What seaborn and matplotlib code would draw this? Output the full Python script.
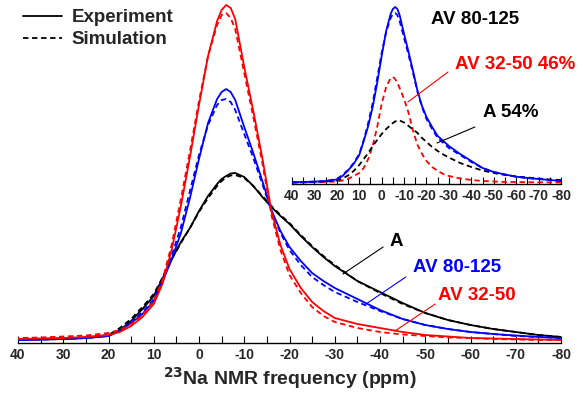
import seaborn as sns
import matplotlib.pyplot as plt
from matplotlib.lines import Line2D

# chemical shift grid (ppm), shared by all curves
ppm = [40, 35, 30, 25, 20, 17.5, 15, 12.5, 10, 8, 6, 4, 2, 0, -2, -4, -5, -6, -7, -8,
       -10, -12, -14, -16, -18, -20, -22.5, -25, -27.5, -30, -35, -40, -45, -50, -55,
       -60, -65, -70, -75, -80]

# main panel intensities (a.u.)
a_exp = [1, 1.5, 2, 3, 5, 11, 20, 32, 45, 63, 82, 99, 113, 130, 145, 157, 162, 165, 167.5, 168,
         164, 155, 144, 134, 125, 117, 105, 94, 84, 75, 60, 49, 38, 28, 21, 16, 12, 9, 6, 4]
a_sim = [1.5, 2, 2.5, 3.5, 6, 13, 22, 34, 47, 64, 82, 98, 113, 129, 143, 155, 160, 163.5, 165.5, 166,
         163, 155, 145, 135, 126, 118, 106, 95, 85, 76, 60, 48, 37, 28, 21, 16, 12, 9, 6, 4]
av80_exp = [1, 1.5, 2, 3, 5, 10, 18, 27, 40, 60, 82, 108, 143, 182, 218, 242, 249, 252, 249, 241,
            214, 188, 160, 131, 110, 94, 80, 68, 60, 53, 42, 31, 22, 16, 12, 9, 7, 5.5, 4, 3]
av80_sim = [1, 1.5, 2, 3, 5.5, 11, 19, 29, 42, 62, 86, 114, 150, 186, 216, 236, 241, 242, 239, 231,
            207, 183, 157, 130, 108, 91, 76, 64, 56, 49, 39, 30, 22, 16, 12, 9, 7, 5, 4, 3]
av32_exp = [2, 2.5, 3, 4, 6, 9, 15, 24, 37, 58, 92, 135, 184, 236, 285, 320, 331, 336, 333, 322,
            274, 230, 183, 130, 96, 72, 53, 39, 30, 23, 17, 13, 9, 6, 4.5, 3, 2.5, 2, 1.5, 1]
av32_sim = [3, 3.5, 4.5, 5.5, 8, 11, 17, 26, 40, 62, 97, 142, 190, 240, 285, 316, 326, 328, 323, 312,
            268, 224, 178, 126, 91, 66, 48, 34, 25, 19, 13, 9, 6.5, 5, 3.5, 3, 2, 1.5, 1, 1]

# inset: AV 80-125 and its two components
in_av80_exp = [0.7, 1, 1.4, 2, 3.5, 7, 12.5, 19, 28, 42, 57, 76, 100, 127, 152, 169, 174, 176, 174, 168,
               149, 131, 112, 92, 77, 66, 56, 47, 42, 37, 29, 22, 15, 11, 8.5, 6.3, 5, 4, 3, 2]
in_av80_sim = [0.7, 1, 1.4, 2, 4, 8, 13, 20, 29, 43, 60, 80, 105, 130, 151, 165, 169, 170, 168, 162,
               145, 128, 110, 91, 76, 64, 54, 45, 40, 35, 28, 21, 15, 11, 8.5, 6.3, 5, 4, 3, 2]
in_av32 = [0.5, 0.6, 0.8, 1, 1.5, 2.5, 4, 7, 10, 15, 24, 37, 56, 79, 96, 105, 106, 104, 100, 95,
           84, 70, 52, 38, 29, 22, 16, 12, 9, 7, 4.5, 3, 2, 1.5, 1, 1, 0.8, 0.7, 0.6, 0.5]
in_a = [0.5, 0.7, 1, 1.5, 2.5, 4.5, 7.5, 12, 18, 24, 30, 37, 43, 49, 54, 58, 60, 61.5, 62.5, 62.5,
        60.5, 57, 53.5, 50, 45, 41, 36, 32, 28.5, 25.5, 20, 16, 12.5, 10, 8, 6.5, 5.5, 4.5, 3.5, 3]

xticks = list(range(40, -81, -10))
minor_ticks = list(range(35, -80, -10))

sns.set_style("white")
plt.rcParams['font.family'] = ['Liberation Sans', 'DejaVu Sans']
plt.rcParams['font.weight'] = 'bold'
plt.rcParams['axes.unicode_minus'] = False

DASH = (0, (3, 2))
LW = 1.3


def style_axis(ax, ylim):
    ax.set_xlim(40, -80)
    ax.set_ylim(*ylim)
    ax.set_facecolor('none')
    for side in ['left', 'top', 'right']:
        ax.spines[side].set_visible(False)
    ax.spines['bottom'].set_linewidth(1.0)
    ax.spines['bottom'].set_color('black')
    ax.set_yticks([])
    ax.set_xticks(xticks)
    ax.set_xticklabels([str(t) for t in xticks])
    for lbl in ax.get_xticklabels():
        lbl.set_fontsize(10)
        lbl.set_fontweight('bold')
    ax.set_xticks(minor_ticks, minor=True)
    ax.tick_params(axis='x', which='both', direction='in', length=5, width=0.8,
                   color='black', pad=3.5, bottom=True)
    ax.set_ylabel('')


fig = plt.figure(figsize=(5.78, 3.94), dpi=100)
ax = fig.add_axes([18 / 578, 1 - 343 / 394, 543 / 578, 343 / 394])

for exp, sim, color in [(a_exp, a_sim, 'black'),
                        (av80_exp, av80_sim, 'blue'),
                        (av32_exp, av32_sim, 'red')]:
    sns.lineplot(x=ppm, y=sim, ax=ax, color=color, lw=LW, linestyle=DASH)
    sns.lineplot(x=ppm, y=exp, ax=ax, color=color, lw=LW)

style_axis(ax, (-2, 341))
ax.set_xlabel('$\\mathbf{^{23}}$Na NMR frequency (ppm)', fontsize=14,
              fontweight='bold', labelpad=2)

# curve labels with leader lines
ax.text(-43.5, 100, 'A', color='black', fontsize=13.5, fontweight='bold',
        ha='center', va='center')
ax.plot([-40.7, -31.8], [94, 67], color='black', lw=0.8)
ax.text(-57, 74, 'AV 80-125', color='blue', fontsize=13.5, fontweight='bold',
        ha='center', va='center')
ax.plot([-45.7, -36.9], [64, 37], color='blue', lw=0.8)
ax.text(-61.5, 45, 'AV 32-50', color='red', fontsize=13.5, fontweight='bold',
        ha='center', va='center')
ax.plot([-52.2, -43.3], [37, 10], color='red', lw=0.8)

handles = [Line2D([], [], color='black', lw=LW),
           Line2D([], [], color='black', lw=LW, linestyle=DASH)]
ax.legend(handles, ['Experiment', 'Simulation'], loc='upper left',
          bbox_to_anchor=(23 / 578, 1 - 9 / 394), bbox_transform=fig.transFigure,
          frameon=False, borderpad=0, borderaxespad=0, handlelength=2.1,
          handletextpad=0.5, labelspacing=0.27,
          prop={'size': 13.5, 'weight': 'bold'})

# inset
axi = fig.add_axes([292 / 578, 1 - 184 / 394, 269 / 578, 184 / 394])
sns.lineplot(x=ppm, y=in_av32, ax=axi, color='red', lw=LW, linestyle=DASH)
sns.lineplot(x=ppm, y=in_a, ax=axi, color='black', lw=LW, linestyle=DASH)
sns.lineplot(x=ppm, y=in_av80_sim, ax=axi, color='blue', lw=LW, linestyle=DASH)
sns.lineplot(x=ppm, y=in_av80_exp, ax=axi, color='blue', lw=LW)
style_axis(axi, (-1, 183))
axi.set_xlabel('')

axi.text(-41.6, 163, 'AV 80-125', color='black', fontsize=13.5, fontweight='bold',
         ha='center', va='center')
axi.text(-59.5, 118.5, 'AV 32-50 46%', color='red', fontsize=13.5, fontweight='bold',
         ha='center', va='center', clip_on=False)
axi.plot([-29.6, -11.7], [111, 81], color='red', lw=0.8)
axi.text(-57.5, 70.5, 'A 54%', color='black', fontsize=13.5, fontweight='bold',
         ha='center', va='center')
axi.plot([-41.6, -24.7], [56, 40], color='black', lw=0.8)

fig.savefig('out.png', dpi=100)
